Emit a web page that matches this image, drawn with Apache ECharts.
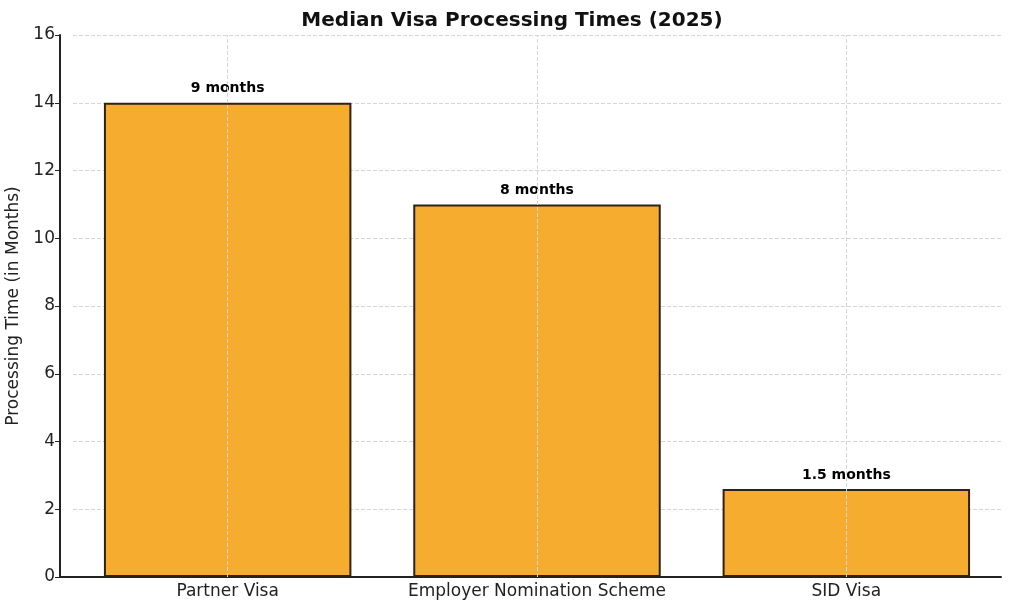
<!DOCTYPE html>
<html>
<head>
<meta charset="utf-8">
<script src="https://cdn.jsdelivr.net/npm/echarts@6/dist/echarts.min.js"></script>
<style>
  html, body { margin: 0; padding: 0; background: #fff; }
  #chart { width: 1024px; height: 610px; }
</style>
</head>
<body>
<div id="chart"></div>
<script>
// data
var categories = ['Partner Visa', 'Employer Nomination Scheme', 'SID Visa'];
var months = [14, 11, 2.6];
var barLabels = ['9 months', '8 months', '1.5 months'];

var chart = echarts.init(document.getElementById('chart'));

var option = {
    animation: false,
    textStyle: { fontFamily: 'DejaVu Sans' },
    title: {
        text: 'Median Visa Processing Times (2025)',
        left: 'center',
        top: 6,
        textStyle: { fontSize: 20, fontWeight: 'bold', color: '#111' }
    },
    grid: { left: 73, right: 23, top: 35, bottom: 33, outerBoundsMode: 'none', containLabel: false },
    xAxis: {
        type: 'category',
        data: categories,
        axisLine: { lineStyle: { color: '#222', width: 2 } },
        axisTick: { alignWithLabel: true, length: 4, lineStyle: { color: '#222' } },
        axisLabel: { color: '#222', fontSize: 17, margin: 6, interval: 0, hideOverlap: false },
        splitLine: { show: false }
    },
    yAxis: {
        type: 'value',
        min: 0,
        max: 16,
        interval: 2,
        offset: 13,
        name: 'Processing Time (in Months)',
        nameLocation: 'middle',
        nameGap: 31,
        nameTextStyle: { fontSize: 17, color: '#222' },
        axisLine: { show: true, lineStyle: { color: '#222', width: 2 } },
        axisTick: { show: true, length: 5, lineStyle: { color: '#222' } },
        axisLabel: { color: '#222', fontSize: 17, margin: 5 },
        splitLine: { lineStyle: { color: '#d6d6d6', type: 'dashed', width: 1 } }
    },
    series: [{
        type: 'bar',
        data: months,
        barWidth: '80%',
        itemStyle: { color: '#f6ad2f', borderColor: '#2e2218', borderWidth: 2 },
        label: {
            show: true,
            position: 'top',
            distance: 7,
            fontSize: 14,
            fontWeight: 'bold',
            color: '#000',
            formatter: function (p) { return barLabels[p.dataIndex]; }
        },
        markLine: {
            silent: true,
            symbol: 'none',
            label: { show: false },
            lineStyle: { color: '#d6d6d6', type: 'dashed', width: 1 },
            data: categories.map(function (c) { return { xAxis: c }; })
        }
    }]
};

chart.setOption(option);

// extend x axis line to the offset y axis
var y0 = chart.convertToPixel({ yAxisIndex: 0 }, 0);
chart.setOption({
    graphic: [{
        type: 'line',
        shape: { x1: 60, y1: y0, x2: 74, y2: y0 },
        style: { stroke: '#222', lineWidth: 2 },
        silent: true
    }]
});
</script>
</body>
</html>
